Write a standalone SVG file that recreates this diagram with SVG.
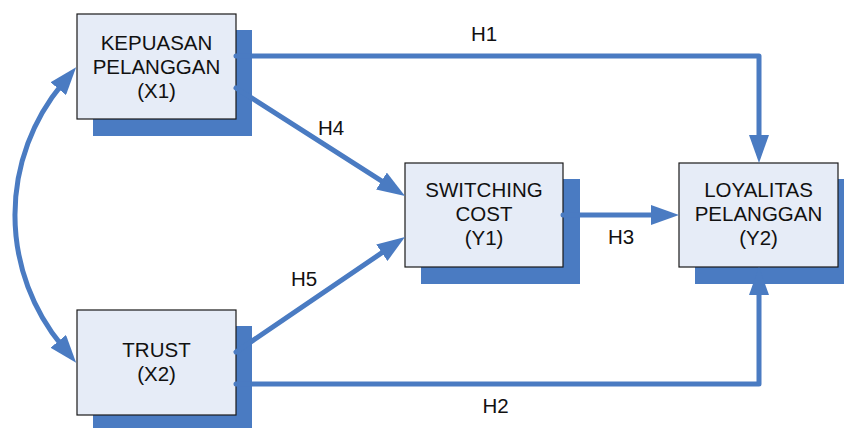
<svg xmlns="http://www.w3.org/2000/svg" width="844" height="428" viewBox="0 0 844 428">
  <style>
    .shadow { fill: #4A7BC2; }
    .box { fill: #E6ECF7; stroke: #1A1A1A; stroke-width: 1.2; }
    .label { font-family: "Liberation Sans", Arial, sans-serif; font-size: 20.5px; fill: #111; text-anchor: middle; }
    .link { fill: none; stroke: #4A7BC2; stroke-width: 5; stroke-linecap: round; stroke-linejoin: round; }
  </style>
  <defs>
    <marker id="head" markerUnits="userSpaceOnUse" viewBox="0 0 28 20" refX="6" refY="10" markerWidth="28" markerHeight="20" orient="auto-start-reverse">
      <path d="M0,0 L28,10 L0,20 z" fill="#4A7BC2"/>
    </marker>
  </defs>

  <rect width="844" height="428" fill="#FFFFFF"/>

  <!-- nodes: solid offset shadow, then the box and its caption -->
  <g id="kepuasan-pelanggan">
    <rect class="shadow" x="93" y="30" width="159" height="106"/>
    <rect class="box" x="77" y="14" width="159" height="105"/>
    <text class="label" x="156.5" y="50">KEPUASAN</text>
    <text class="label" x="156.5" y="74">PELANGGAN</text>
    <text class="label" x="156.5" y="98">(X1)</text>
  </g>

  <g id="trust">
    <rect class="shadow" x="93" y="326" width="159" height="106"/>
    <rect class="box" x="77" y="310" width="159" height="105"/>
    <text class="label" x="156.5" y="357">TRUST</text>
    <text class="label" x="156.5" y="381">(X2)</text>
  </g>

  <g id="switching-cost">
    <rect class="shadow" x="421" y="179" width="159" height="105"/>
    <rect class="box" x="405" y="163" width="158" height="104"/>
    <text class="label" x="484" y="197">SWITCHING</text>
    <text class="label" x="484" y="221">COST</text>
    <text class="label" x="484" y="245">(Y1)</text>
  </g>

  <g id="loyalitas-pelanggan">
    <rect class="shadow" x="695" y="179" width="159" height="105"/>
    <rect class="box" x="679" y="163" width="159" height="104"/>
    <text class="label" x="758.5" y="197">LOYALITAS</text>
    <text class="label" x="758.5" y="221">PELANGGAN</text>
    <text class="label" x="758.5" y="245">(Y2)</text>
  </g>

  <!-- connectors -->
  <g id="connectors">
    <path id="h1" class="link" d="M236,56 H759 V141" marker-end="url(#head)"/>
    <path id="h2" class="link" d="M236,384 H759 V289" marker-end="url(#head)"/>
    <path id="h3" class="link" d="M563,215 H657" marker-end="url(#head)"/>
    <path id="h4" class="link" d="M236,88 L386.5,184.2" marker-end="url(#head)"/>
    <path id="h5" class="link" d="M236,352 L386.8,249.4" marker-end="url(#head)"/>
    <path id="x1-x2" class="link" d="M62.1,84.1 A205.3,205.3 0 0 0 62.1,345.9" marker-start="url(#head)" marker-end="url(#head)"/>
  </g>

  <!-- hypothesis labels -->
  <g id="hypotheses">
    <text class="label" x="484" y="41">H1</text>
    <text class="label" x="495.5" y="413">H2</text>
    <text class="label" x="621" y="244">H3</text>
    <text class="label" x="331" y="135">H4</text>
    <text class="label" x="304" y="286">H5</text>
  </g>
</svg>
